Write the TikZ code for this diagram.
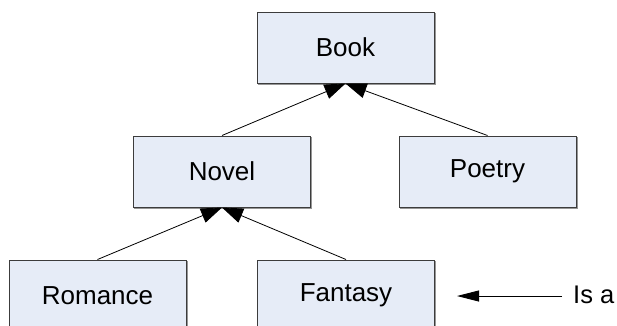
\documentclass[tikz,border=0pt]{standalone}
\usepackage{fontspec}
\setmainfont{Liberation Sans}
\usetikzlibrary{arrows.meta}
\definecolor{boxfill}{RGB}{230,236,247}
\definecolor{boxline}{RGB}{60,60,60}
\definecolor{boxshade}{RGB}{150,150,150}
\tikzset{
  classbox/.style={draw=boxline, line width=1pt, fill=boxfill,
    minimum width=177pt, minimum height=71pt, inner sep=0pt,
    font=\fontsize{26}{30}\selectfont,
    preaction={draw=boxshade, line width=1.2pt, fill=boxshade,
      transform canvas={xshift=1.2pt,yshift=-1.2pt}}},
  isarel/.style={draw=black, line width=0.8pt,
    -{Triangle[length=21pt,width=15pt]}},
  legendrel/.style={draw=black, line width=0.9pt,
    -{Triangle[length=22pt,width=11pt]}},
}
\begin{document}
\begin{tikzpicture}[x=1pt,y=-1pt]
  \useasboundingbox (0,0) rectangle (617,325);
  \begin{scope}
    \clip (0,0) rectangle (617,325);
    % class hierarchy boxes
    \node[classbox] (book)    at (345.5,47.5)  {Book};
    \node[classbox] (novel)   at (222,171.5)   {Novel};
    \node[classbox] (poetry)  at (487.5,171.5) {Poetry};
    \node[classbox] (romance) at (97.5,295.5)  {Romance};
    \node[classbox] (fantasy) at (346,295.5)   {Fantasy};
    % generalisation links
    \draw[isarel] (novel.north)   -- (book.south);
    \draw[isarel] (poetry.north)  -- (book.south);
    \draw[isarel] (romance.north) -- (novel.south);
    \draw[isarel] (fantasy.north) -- (novel.south);
  \end{scope}
  % legend
  \node[anchor=west, inner sep=0pt, font=\fontsize{25.5}{30}\selectfont] (isa) at (573,295) {Is a};
  \coordinate (tip) at (457,296);
  \draw[legendrel] ([xshift=-11pt,yshift=-1pt]isa.west) -- (tip);
\end{tikzpicture}
\end{document}
